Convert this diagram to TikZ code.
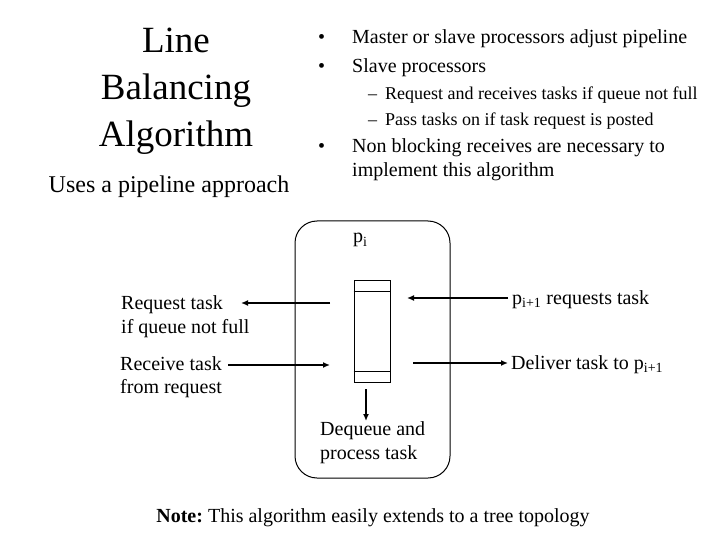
\documentclass[tikz,border=0pt]{standalone}
\usepackage{fontspec}
\setmainfont{Liberation Serif}
\usetikzlibrary{arrows.meta, positioning}

\begin{document}
\begin{tikzpicture}[x=1pt, y=-1pt,
    txt/.style={anchor=base west, inner sep=0pt, font=\fontsize{20}{24}\selectfont},
    subtxt/.style={txt, font=\fontsize{18}{22}\selectfont},
    heading/.style={anchor=base, inner sep=0pt, font=\fontsize{37}{47}\selectfont},
    flow/.style={-{Latex[length=7pt,width=6pt]}, line width=1.6pt}]
  \useasboundingbox (0,0) rectangle (720,540);
  % Heading
  \node[heading] (head1) at (176,53) {Line};
  \node[heading] (head2) at (176,100) {Balancing};
  \node[heading] (head3) at (176,147) {Algorithm};
  \node[heading, font=\fontsize{24}{28}\selectfont] (approach) at (169,193) {Uses a pipeline approach};
  % Bullet points
  \node[txt] (dot1) at (318,44) {\textbullet};
  \node[txt] (item1) at (352,44) {Master or slave processors adjust pipeline};
  \node[txt] (dot2) at (318,73) {\textbullet};
  \node[txt] (item2) at (352,73) {Slave processors};
  \node[subtxt] (dash1) at (368,100) {–};
  \node[subtxt] (sub1) at (385,100) {Request and receives tasks if queue not full};
  \node[subtxt] (dash2) at (368,126) {–};
  \node[subtxt] (sub2) at (385,126) {Pass tasks on if task request is posted};
  \node[txt] (dot3) at (318,153) {\textbullet};
  \node[txt] (item3a) at (352,153) {Non blocking receives are necessary to};
  \node[txt] (item3b) at (352,177) {implement this algorithm};
  % Processor with its queue
  \draw[line width=1pt, rounded corners=22pt] (295,221) rectangle (450,478);
  \node[txt] (pi) at (353,243) {p\textsubscript{i}};
  \node[draw, line width=1pt, minimum width=36, minimum height=102, inner sep=0pt] (queue) at (372,331) {};
  \draw[line width=1pt] (queue.north west) ++(0,12) -- ++(36,0);
  \draw[line width=1pt] (queue.south west) ++(0,-11) -- ++(36,0);
  % Messages
  \node[txt] (reqtask) at (121,309) {Request task};
  \node[txt] (reqcond) at (121,333) {if queue not full};
  \node[txt] (recvtask) at (120,370) {Receive task};
  \node[txt] (recvfrom) at (120,393) {from request};
  \node[txt] (nextreq) at (512,304) {p\textsubscript{i+1} requests task};
  \node[txt] (deliver) at (511,369) {Deliver task to p\textsubscript{i+1}};
  \node[txt] (deq1) at (320,435) {Dequeue and};
  \node[txt] (deq2) at (320,459) {process task};
  \coordinate (reqin) at (330,303);
  \coordinate (reqout) at (241,303);
  \coordinate (recvin) at (228,365);
  \coordinate (recvout) at (330,365);
  \coordinate (nextin) at (508,298);
  \coordinate (nextout) at (407,298);
  \coordinate (delin) at (413,363);
  \coordinate (delout) at (508,363);
  \coordinate (deqin) at (366,389);
  \coordinate (deqout) at (366,421);
  \draw[flow] (reqin) -- (reqout);
  \draw[flow] (recvin) -- (recvout);
  \draw[flow] (nextin) -- (nextout);
  \draw[flow] (delin) -- (delout);
  \draw[flow] (deqin) -- (deqout);
  % Note
  \node[txt, anchor=base] (note) at (373,522) {\frenchspacing\textbf{Note:} This algorithm easily extends to a tree topology};
\end{tikzpicture}
\end{document}
